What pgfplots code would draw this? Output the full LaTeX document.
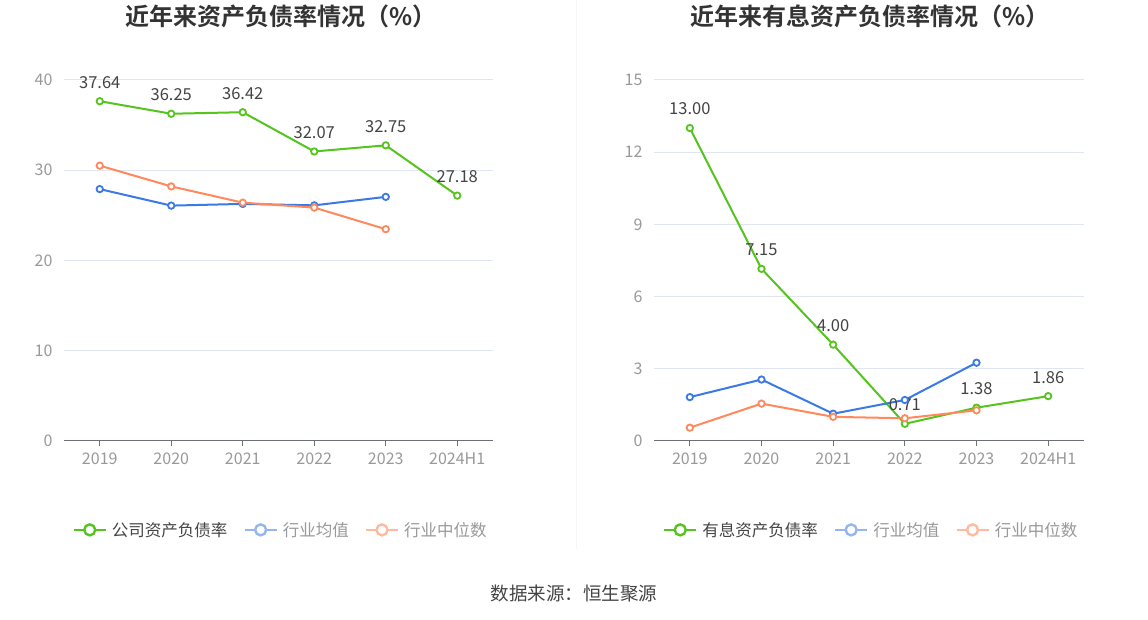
\documentclass[border=0pt]{standalone}
\usepackage{pgfplots}
\pgfplotsset{compat=1.18}
\usepackage{fontspec}
\setmainfont{Noto Sans CJK SC}
\newfontfamily\boldcjk{Noto Sans CJK SC Bold}
\definecolor{cgreen}{RGB}{86,196,30}
\definecolor{cblue}{RGB}{59,121,230}
\definecolor{corange}{RGB}{255,137,92}
\definecolor{lblue}{RGB}{150,182,242}
\definecolor{lorange}{RGB}{255,186,160}
\definecolor{gridc}{RGB}{224,230,241}
\definecolor{axisc}{RGB}{110,112,121}
\definecolor{tickc}{RGB}{153,153,153}
\definecolor{labc}{RGB}{68,68,68}
\definecolor{titc}{RGB}{51,51,51}
\pgfplotsset{
  mystyle/.style={
    scale only axis, height=361pt,
    xmin=-0.5, xmax=5.5, enlargelimits=false,
    axis x line*=bottom, axis y line*=left,
    y axis line style={draw=none},
    x axis line style={draw=axisc, line width=0.9pt, -},
    ytick style={draw=none},
    xtick style={draw=axisc, line width=0.9pt},
    tick align=outside, major tick length=5pt,
    xtick={0,1,2,3,4,5},
    xticklabels={2019,2020,2021,2022,2023,2024H1},
    ymajorgrids, grid style={draw=gridc, line width=0.9pt},
    /pgf/number format/assume math mode=true,
    ticklabel style={font=\fontsize{16}{18}\selectfont, text=tickc},
    xticklabel style={yshift=-3pt},
    yticklabel style={xshift=-3pt},
    clip=false,
    legend columns=3,
    legend style={draw=none, fill=none, font=\fontsize{16.5}{18}\selectfont,
      anchor=center, at={(0.505,-0.2465)},
      /tikz/every even column/.append style={column sep=14pt},
      /tikz/every odd column/.append style={column sep=3pt},
      inner sep=0pt, row sep=0pt},
    legend cell align=left,
    title style={font=\boldcjk\fontsize{24}{27}\selectfont, text=titc, anchor=center},
  },
  ser/.style={line width=2pt, mark=*, mark size=3.2pt,
    mark options={fill=white, line width=1.8pt, solid}},
  leg/.style={legend image code/.code={
    \draw[line width=2.4pt, #1] (0pt,0pt)--(32pt,0pt);
    \draw[line width=2.4pt, #1, fill=white] (16pt,0pt) circle (5.5pt);}},
  lab/.style={nodes near coords, point meta=explicit symbolic,
    every node near coord/.append style={font=\fontsize{16.5}{18}\selectfont, text=labc, anchor=south, inner sep=0pt, yshift=12pt}},
}
\begin{document}
\begin{tikzpicture}[x=1pt,y=1pt]
\fill[white] (0,0) rectangle (1148,619);
\draw[draw=gray!8, line width=0.8pt] (576,70) -- (576,619);
\node[font=\fontsize{18.5}{20}\selectfont, text=labc] at (574,26) {数据来源：恒生聚源};

\begin{axis}[mystyle, at={(64pt,178.5pt)}, anchor=south west, width=429pt,
  ymin=0, ymax=40, ytick={0,10,20,30,40},
  title={近年来资产负债率情况（\%）}, title style={at={(0.506,1.158)}}]
\addlegendimage{leg=cgreen}
\addlegendentry{\textcolor{labc}{公司资产负债率}}
\addlegendimage{leg=lblue}
\addlegendentry{\textcolor{tickc}{行业均值}}
\addlegendimage{leg=lorange}
\addlegendentry{\textcolor{tickc}{行业中位数}}
\addplot[ser, cgreen, lab, forget plot] coordinates {
 (0,37.64) [37.64] (1,36.25) [36.25] (2,36.42) [36.42]
 (3,32.07) [32.07] (4,32.75) [32.75] (5,27.18) [27.18]};
\addplot[ser, cblue, forget plot] coordinates {
 (0,27.90) (1,26.07) (2,26.26) (3,26.10) (4,27.04)};
\addplot[ser, corange, forget plot] coordinates {
 (0,30.50) (1,28.20) (2,26.40) (3,25.85) (4,23.46)};
\end{axis}

\begin{axis}[mystyle, at={(654pt,178.5pt)}, anchor=south west, width=430pt,
  ymin=0, ymax=15, ytick={0,3,6,9,12,15},
  title={近年来有息资产负债率情况（\%）}, title style={at={(0.503,1.158)}}]
\addlegendimage{leg=cgreen}
\addlegendentry{\textcolor{labc}{有息资产负债率}}
\addlegendimage{leg=lblue}
\addlegendentry{\textcolor{tickc}{行业均值}}
\addlegendimage{leg=lorange}
\addlegendentry{\textcolor{tickc}{行业中位数}}
\addplot[ser, cgreen, lab, forget plot] coordinates {
 (0,13.00) [13.00] (1,7.15) [7.15] (2,4.00) [4.00]
 (3,0.71) [0.71] (4,1.38) [1.38] (5,1.86) [1.86]};
\addplot[ser, cblue, forget plot] coordinates {
 (0,1.82) (1,2.55) (2,1.13) (3,1.70) (4,3.25)};
\addplot[ser, corange, forget plot] coordinates {
 (0,0.55) (1,1.55) (2,1.00) (3,0.94) (4,1.27)};
\end{axis}
\end{tikzpicture}
\end{document}
